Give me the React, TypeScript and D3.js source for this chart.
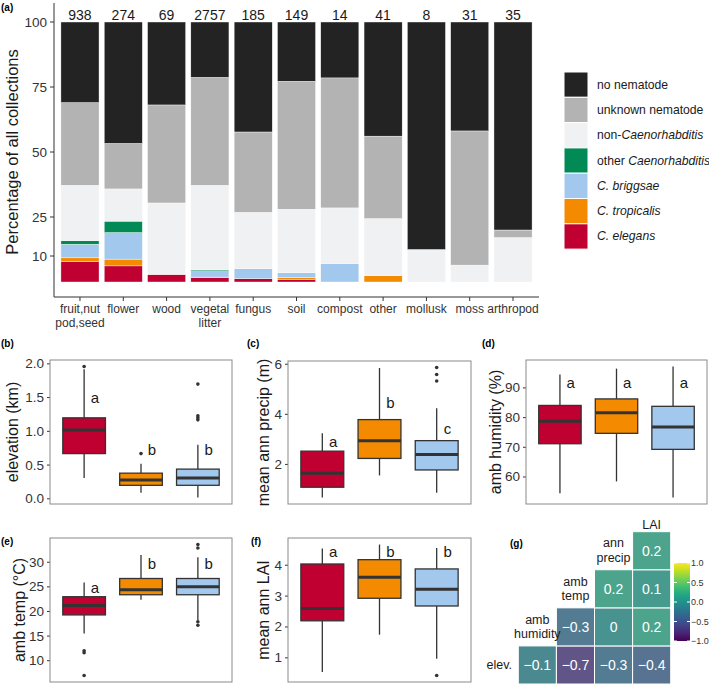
import React from 'react'
import * as d3 from 'd3'

const FONT = '"Liberation Sans", Arial, Helvetica, sans-serif'

// ---- panel (a): stacked share of collections per substrate ----
const habitats = ['fruit,nut\npod,seed', 'flower', 'wood', 'vegetal\nlitter', 'fungus', 'soil', 'compost', 'other', 'mollusk', 'moss', 'arthropod']
const habitatCounts = [938, 274, 69, 2757, 185, 149, 14, 41, 8, 31, 35]
const elegansPct = [7.8, 6.2, 2.9, 1.7, 1.3, 1.0, 0, 0, 0, 0, 0]
const tropicalisPct = [1.5, 2.6, 0, 0.2, 0, 0.7, 0, 2.4, 0, 0, 0]
const briggsaePct = [5.2, 10.2, 0, 2.4, 3.8, 1.9, 7.1, 0, 0, 0, 0]
const otherCaenoPct = [1.4, 4.4, 0, 0.4, 0, 0, 0, 0, 0, 0, 0]
const nonCaenoPct = [21.3, 12.4, 27.5, 32.5, 21.7, 24.4, 21.4, 22.0, 12.5, 6.5, 17.1]
const unknownPct = [31.8, 17.5, 37.7, 41.5, 30.9, 49.2, 50.0, 31.7, 0, 51.6, 2.9]
const noNematodePct = [31.0, 46.7, 31.9, 21.3, 42.3, 22.8, 21.5, 43.9, 87.5, 41.9, 80.0]

const stackKeys = ['elegans', 'tropicalis', 'briggsae', 'otherCaeno', 'nonCaeno', 'unknown', 'none']
const stackColors = ['#BF0030', '#F48A00', '#A3C8EE', '#018A56', '#F0F1F2', '#B3B3B3', '#232323']
// legend labels: [text, italic] pieces, listed top -> bottom
const legendItems: [string, boolean][][] = [
  [['no nematode', false]],
  [['unknown nematode', false]],
  [['non-', false], ['Caenorhabditis', true]],
  [['other ', false], ['Caenorhabditis', true]],
  [['C. briggsae', true]],
  [['C. tropicalis', true]],
  [['C. elegans', true]],
]

// ---- panels (b)-(f): box plots for elegans / tropicalis / briggsae ----
const species = ['elegans', 'tropicalis', 'briggsae']
const speciesColors = ['#BF0030', '#F48A00', '#A3C8EE']
// each row: [lower whisker, q1, median, q3, upper whisker]
const elevStats = [[0.31, 0.67, 1.02, 1.2, 1.92], [0.09, 0.2, 0.28, 0.38, 0.52], [0.02, 0.2, 0.31, 0.44, 0.8]]
const elevOutliers = [[1.96], [0.67], [1.7, 1.23, 1.2, 1.17]]
const elevLetters = [['a', 1.5], ['b', 0.73], ['b', 0.73]]

const precipStats = [[0.68, 1.09, 1.65, 2.53, 3.25], [1.56, 2.24, 2.95, 3.79, 5.85], [0.87, 1.78, 2.4, 2.95, 4.24]]
const precipOutliers = [[], [], [5.87, 5.59, 5.33]]
const precipLetters = [['a', 2.93], ['b', 4.47], ['c', 3.45]]

const humidStats = [[54.5, 71.2, 78.8, 84.1, 94.5], [58.5, 74.7, 81.6, 86.3, 96.5], [53.1, 69.3, 76.8, 83.8, 97.2]]
const humidOutliers = [[], [], []]
const humidLetters = [['a', 91.9], ['a', 91.9], ['a', 91.9]]

const tempStats = [[15.5, 19.3, 21.2, 23.0, 25.9], [22.4, 23.4, 24.4, 26.7, 31.5], [18.2, 23.4, 25.0, 26.7, 31.0]]
const tempOutliers = [[12.0, 11.6, 7.0], [], [33.6, 32.9, 17.9, 17.2]]
const tempLetters = [['a', 24.8], ['b', 29.8], ['b', 29.8]]

const laiStats = [[0.54, 2.2, 2.6, 4.04, 4.54], [1.75, 2.93, 3.61, 4.18, 4.67], [0.97, 2.68, 3.22, 3.88, 4.56]]
const laiOutliers = [[], [], [0.43]]
const laiLetters = [['a', 4.45], ['b', 4.45], ['b', 4.45]]

// ---- panel (g): correlation triangle ----
const corrVars = ['elev.', 'amb\nhumidity', 'amb\ntemp', 'ann\nprecip', 'LAI']
const corrElev = [-0.1, -0.7, -0.3, -0.4] // vs humidity, temp, precip, LAI
const corrHumidity = [-0.3, 0, 0.2] // vs temp, precip, LAI
const corrTemp = [0.2, 0.1] // vs precip, LAI
const corrPrecip = [0.2] // vs LAI
const colorbarTicks = [-1, -0.5, 0, 0.5, 1]

function PanelTag({ x, y, label }) {
  return <text x={x} y={y} fontSize={10} fontWeight='bold' dominantBaseline='central' fill='#000'>{label}</text>
}

function StackedBars() {
  const rows = habitats.map((h, i) => ({
    habitat: h,
    elegans: elegansPct[i], tropicalis: tropicalisPct[i], briggsae: briggsaePct[i],
    otherCaeno: otherCaenoPct[i], nonCaeno: nonCaenoPct[i], unknown: unknownPct[i], none: noNematodePct[i],
  }))
  const stacked = d3.stack().keys(stackKeys)(rows as any)
  const x = d3.scaleBand().domain(habitats).range([54, 539]).paddingInner(0.12).paddingOuter(0.16)
  const y = d3.scaleLinear().domain([0, 100]).range([282, 22])
  const yTicks = [10, 25, 50, 75, 100]

  return (
    <g>
      {stacked.map((layer, li) => (
        <g key={li} fill={stackColors[li]}>
          {layer.map((d, i) => (d[1] - d[0] > 0 ?
            <rect key={i} x={x(habitats[i])} width={x.bandwidth()} y={y(d[1])} height={y(d[0]) - y(d[1])}
              stroke='#fff' strokeWidth={0.4} /> : null))}
        </g>
      ))}
      {habitats.map((h, i) => (
        <text key={h} x={x(h) + x.bandwidth() / 2} y={15} fontSize={14} textAnchor='middle'
          dominantBaseline='central' fill='#1a1a1a'>{habitatCounts[i]}</text>
      ))}
      <line x1={54} x2={54} y1={3} y2={297} stroke='#333' strokeWidth={1} />
      <line x1={54} x2={539} y1={297} y2={297} stroke='#333' strokeWidth={1} />
      {yTicks.map(t => (
        <g key={t}>
          <line x1={50} x2={54} y1={y(t)} y2={y(t)} stroke='#333' />
          <text x={47} y={y(t)} fontSize={13.5} textAnchor='end' dominantBaseline='central' fill='#333'>{t}</text>
        </g>
      ))}
      {habitats.map(h => {
        const cx = x(h) + x.bandwidth() / 2
        return (
          <g key={h}>
            <line x1={cx} x2={cx} y1={297} y2={301} stroke='#333' />
            {h.split('\n').map((ln, k) => (
              <text key={k} x={cx} y={309 + k * 14} fontSize={12} textAnchor='middle' dominantBaseline='central' fill='#333'>{ln}</text>
            ))}
          </g>
        )
      })}
      <text transform='translate(12,152) rotate(-90)' fontSize={16.5} textAnchor='middle' dominantBaseline='central' fill='#1a1a1a'>
        Percentage of all collections
      </text>
      {legendItems.map((parts, i) => {
        const ky = 72 + i * 25.3
        return (
          <g key={i}>
            <rect x={564} y={ky} width={24} height={25.3} fill={stackColors[stackColors.length - 1 - i]} stroke='#fff' strokeWidth={1} />
            <text x={597} y={ky + 12.6} fontSize={12.2} dominantBaseline='central' fill='#1a1a1a'>
              {parts.map(([t, it], k) => <tspan key={k} fontStyle={it ? 'italic' : 'normal'}>{t}</tspan>)}
            </text>
          </g>
        )
      })}
    </g>
  )
}

function BoxPanel({ x0, x1, y0, y1, stats, outliers, letters, ticks, fmt, title, titleOffset }) {
  const vals = [...stats.flat(), ...outliers.flat()]
  const lo = d3.min(vals), hi = d3.max(vals)
  const pad = (hi - lo) * 0.05
  const y = d3.scaleLinear().domain([lo - pad, hi + pad]).range([y1, y0])
  const x = d3.scalePoint().domain(species).range([x0, x1]).padding(0.6)
  const step = x.step()
  const bw = step * 0.75
  const f = d3.format(fmt)
  return (
    <g>
      {ticks.map(t => (
        <g key={t}>
          <line x1={x0 - 3} x2={x0} y1={y(t)} y2={y(t)} stroke='#333' />
          <text x={x0 - 6} y={y(t)} fontSize={13.5} textAnchor='end' dominantBaseline='central' fill='#333'>{f(t)}</text>
        </g>
      ))}
      {species.map((s, i) => {
        const cx = x(s)
        const [wl, q1, med, q3, wh] = stats[i]
        return (
          <g key={s}>
            <line x1={cx} x2={cx} y1={y(wh)} y2={y(q3)} stroke='#333' strokeWidth={1.3} />
            <line x1={cx} x2={cx} y1={y(q1)} y2={y(wl)} stroke='#333' strokeWidth={1.3} />
            <rect x={cx - bw / 2} width={bw} y={y(q3)} height={y(q1) - y(q3)} fill={speciesColors[i]} stroke='#333' strokeWidth={1.3} />
            <line x1={cx - bw / 2} x2={cx + bw / 2} y1={y(med)} y2={y(med)} stroke='#333' strokeWidth={3} />
            {outliers[i].map((o, k) => <circle key={k} cx={cx} cy={y(o)} r={1.8} fill='#333' />)}
            <text x={cx + step * 0.19} y={y(letters[i][1])} fontSize={15} textAnchor='middle' dominantBaseline='central' fill='#1a1a1a'>{letters[i][0]}</text>
          </g>
        )
      })}
      <rect x={x0} y={y0} width={x1 - x0} height={y1 - y0} fill='none' stroke='#8a8a8a' strokeWidth={1} />
      <text transform={`translate(${x0 - titleOffset},${(y0 + y1) / 2}) rotate(-90)`} fontSize={16} textAnchor='middle'
        dominantBaseline='central' fill='#1a1a1a'>{title}</text>
    </g>
  )
}

function CorrTriangle() {
  const cols = d3.scaleBand().domain(corrVars).range([480.2, 670.7])
  const rows = d3.scaleBand().domain([...corrVars].reverse()).range([493.6, 684])
  const bw = cols.bandwidth(), bh = rows.bandwidth()
  // muted viridis, like the reference tiles
  const color = (v: number) => {
    const c = d3.hsl(d3.interpolateViridis((v + 1) / 2))
    c.s *= 0.75
    return c.formatHex()
  }
  const lists = [corrElev, corrHumidity, corrTemp, corrPrecip]
  const cells = lists.flatMap((list, r) => list.map((v, k) => ({ row: corrVars[r], col: corrVars[r + 1 + k], v })))
  const fmt = d3.format('')
  const cb = d3.scaleLinear().domain([-1, 1]).range([641, 563])
  return (
    <g>
      <defs>
        <linearGradient id='viridisBar' x1='0' y1='1' x2='0' y2='0'>
          {d3.range(0, 1.001, 0.1).map(t => <stop key={t} offset={t} stopColor={d3.interpolateViridis(t)} />)}
        </linearGradient>
      </defs>
      {cells.map((c, i) => (
        <g key={i}>
          <rect x={cols(c.col)} y={rows(c.row)} width={bw} height={bh} fill={color(c.v)} fillOpacity={0.88} stroke='#fff' strokeWidth={1} />
          <text x={cols(c.col) + bw / 2} y={rows(c.row) + bh / 2} fontSize={14} textAnchor='middle' dominantBaseline='central' fill='#fff'>{fmt(c.v)}</text>
        </g>
      ))}
      {corrVars.map((v, i) => {
        const lines = v.split('\n')
        const cx = cols(v) + bw / 2
        const cy = i === corrVars.length - 1 ? rows(v) + bh - 7 : rows(v) + bh / 2
        return lines.map((ln, k) => (
          <text key={v + k} x={cx} y={cy + (k - (lines.length - 1) / 2) * 14.5} fontSize={12.5} textAnchor='middle'
            dominantBaseline='central' fill='#1a1a1a'>{ln}</text>
        ))
      })}
      <rect x={674} y={563} width={16} height={78} fill='url(#viridisBar)' />
      {colorbarTicks.map(t => (
        <g key={t}>
          <line x1={674} x2={677} y1={cb(t)} y2={cb(t)} stroke='#fff' />
          <line x1={687} x2={690} y1={cb(t)} y2={cb(t)} stroke='#fff' />
          <text x={691} y={cb(t)} fontSize={9} dominantBaseline='central' fill='#333'>{d3.format('.1f')(t)}</text>
        </g>
      ))}
    </g>
  )
}

export default function App() {
  return (
    <svg width={709} height={685} viewBox='0 0 709 685' fontFamily={FONT}
      style={{ position: 'absolute', left: 0, top: 0, background: '#fff' }}>
      <rect width={709} height={685} fill='#fff' />
      <PanelTag x={1} y={7} label='(a)' />
      <StackedBars />
      <PanelTag x={1} y={343} label='(b)' />
      <BoxPanel x0={50} x1={232} y0={360} y1={504} stats={elevStats} outliers={elevOutliers} letters={elevLetters}
        ticks={[0, 0.5, 1, 1.5, 2]} fmt='.1f' title='elevation (km)' titleOffset={38} />
      <PanelTag x={247} y={343} label='(c)' />
      <BoxPanel x0={288} x1={471} y0={361} y1={504} stats={precipStats} outliers={precipOutliers} letters={precipLetters}
        ticks={[2, 4, 6]} fmt='d' title='mean ann precip (m)' titleOffset={25} />
      <PanelTag x={482} y={343} label='(d)' />
      <BoxPanel x0={526} x1={707} y0={360} y1={504} stats={humidStats} outliers={humidOutliers} letters={humidLetters}
        ticks={[60, 70, 80, 90]} fmt='d' title='amb humidity (%)' titleOffset={31} />
      <PanelTag x={1} y={541} label='(e)' />
      <BoxPanel x0={50} x1={232} y0={538} y1={682} stats={tempStats} outliers={tempOutliers} letters={tempLetters}
        ticks={[10, 15, 20, 25, 30]} fmt='d' title='amb temp (°C)' titleOffset={31} />
      <PanelTag x={251} y={541} label='(f)' />
      <BoxPanel x0={288} x1={471} y0={538} y1={682} stats={laiStats} outliers={laiOutliers} letters={laiLetters}
        ticks={[1, 2, 3, 4]} fmt='d' title='mean ann LAI' titleOffset={25} />
      <PanelTag x={510} y={543} label='(g)' />
      <CorrTriangle />
    </svg>
  )
}
